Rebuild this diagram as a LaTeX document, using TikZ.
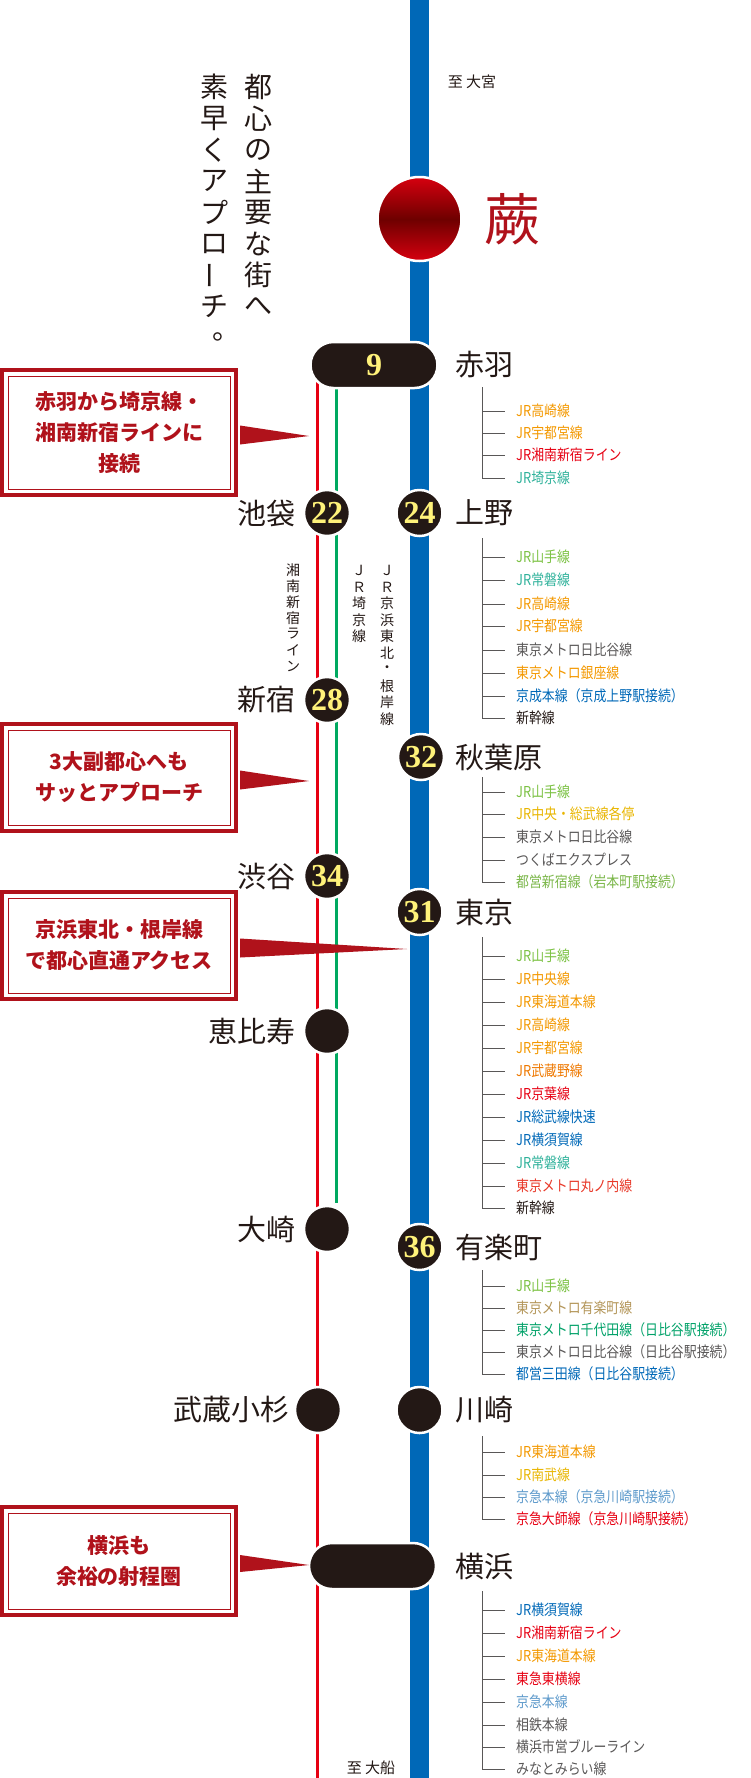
\documentclass[tikz,border=0pt]{standalone}
\usepackage{fontspec}
\setmainfont{Noto Sans CJK JP}
\newfontfamily\numfont{Liberation Serif}
\usetikzlibrary{positioning,calc}
\definecolor{lineblue}{HTML}{0068B7}
\definecolor{linered}{HTML}{E60012}
\definecolor{linegreen}{HTML}{00A960}
\definecolor{stblack}{HTML}{231815}
\definecolor{numyellow}{HTML}{FFF27A}
\definecolor{boxred}{HTML}{B0121B}
\definecolor{warabired}{HTML}{D7000F}
\definecolor{warabidark}{HTML}{6E0000}
\definecolor{jrorange}{HTML}{F39800}
\definecolor{jrred}{HTML}{E60012}
\definecolor{teal}{HTML}{2EB19A}
\definecolor{yamanote}{HTML}{7BC143}
\definecolor{grayline}{HTML}{595757}
\definecolor{keisei}{HTML}{0068B7}
\definecolor{chuo}{HTML}{E8B500}
\definecolor{toei}{HTML}{7AB648}
\definecolor{musashino}{HTML}{EE7800}
\definecolor{marunouchi}{HTML}{E83828}
\definecolor{yurakucho}{HTML}{B39558}
\definecolor{chiyoda}{HTML}{00A168}
\definecolor{keikyu}{HTML}{5E9ACB}
\tikzset{
  numst/.style={circle, minimum size=46pt, inner sep=0pt, fill=stblack, draw=white, line width=2.5pt,
    text=numyellow, font=\numfont\bfseries\fontsize{32}{32}\selectfont},
  pill/.style={rounded corners=23pt, minimum width=127pt, minimum height=46pt, inner sep=0pt,
    fill=stblack, draw=white, line width=2.5pt, text=numyellow, font=\numfont\bfseries\fontsize{32}{32}\selectfont},
  stname/.style={font=\fontsize{29}{29}\selectfont, text=stblack, inner sep=0pt},
  callout/.style={draw=boxred, line width=4pt, fill=white, minimum width=234pt, align=center,
    text=boxred, font=\bfseries\fontsize{21}{31}\selectfont},
  bracket/.style={draw=grayline, line width=1pt},
  item/.style={anchor=west, inner sep=0pt, xscale=0.86, font=\fontsize{15}{15}\selectfont},
  vchar/.style={inner sep=0pt, font=\fontsize{14}{14}\selectfont, text=stblack},
}
% list of connecting lines beside a station
\newcommand{\linelist}[4]{%
  \draw[bracket] (482,#1) -- (482,#2) -- (505,#2);
  \foreach \yy/\lcol/\lbl [count=\i] in {#3} {
    \draw[bracket] (482,\yy) -- (505,\yy);
    \node[item, text=\lcol] (#4-\i) at (516,\yy) {\lbl};
  }}
\begin{document}
\begin{tikzpicture}[x=1pt,y=-1pt]
  \useasboundingbox (0,0) rectangle (750,1778);
  % lines
  \draw[lineblue, line width=19pt] (419.5,0) -- (419.5,1778);
  \draw[linered, line width=3pt] (317,365) -- (317,1778);
  \draw[linegreen, line width=3pt] (336,365) -- (336,1203);
  \foreach \c [count=\i] in {湘,南,新,宿,ラ,イ,ン}
    \node[vchar] (shonan-\i) at (293,554+\i*16) {\c};
  \foreach \c [count=\i] in {Ｊ,Ｒ,埼,京,線}
    \node[vchar] (saikyo-\i) at (359,554+\i*16.5) {\c};
  \foreach \c [count=\i] in {Ｊ,Ｒ,京,浜,東,北,・,根,岸,線}
    \node[vchar] (keihin-\i) at (387,554+\i*16.5) {\c};
  \node[font=\fontsize{15}{15}\selectfont, text=stblack] (omiya) at (472,82) {至 大宮};
  \node[font=\fontsize{15}{15}\selectfont, text=stblack] (ofuna) at (371,1768) {至 大船};
  % catch copy
  \foreach \c [count=\i] in {都,心,の,主,要,な,街,へ}
    \node[font=\fontsize{28}{28}\selectfont, text=stblack] (copya-\i) at (258,56+\i*31.3) {\c};
  \foreach \c [count=\i] in {素,早,く,ア,プ,ロ,{\rotatebox[origin=c]{90}{ー}},チ}
    \node[font=\fontsize{28}{28}\selectfont, text=stblack] (copyb-\i) at (214,56+\i*31.3) {\c};
  \node[font=\fontsize{28}{28}\selectfont, text=stblack] (copyb-9) at (226,337) {。};
  % warabi
  \node[circle, minimum size=84pt, draw=white, line width=2.5pt, top color=warabired,
    bottom color=warabired, middle color=warabidark] (warabi) at (419.5,219) {};
  \node[font=\fontsize{56}{56}\selectfont, text=boxred, anchor=west] (warabi-name) at (481,219) {蕨};
  % stations
  \node[pill] (akabane) at (374,365) {9};
  \node[pill] (yokohama) at (372.5,1566) {};
  \node[numst] (ikebukuro) at (327,513) {22};
  \node[numst] (ueno) at (419.5,513) {24};
  \node[numst] (shinjuku) at (327,700) {28};
  \node[numst] (akihabara) at (421,757) {32};
  \node[numst] (shibuya) at (327,876) {34};
  \node[numst] (tokyo) at (419.5,912) {31};
  \node[numst] (ebisu) at (327,1031) {};
  \node[numst] (osaki) at (327,1229) {};
  \node[numst] (yurakucho) at (419.5,1247) {36};
  \node[numst] (kosugi) at (318,1410) {};
  \node[numst] (kawasaki) at (419.5,1410) {};
  \node[stname, anchor=west] at (455,365) {赤羽};
  \node[stname, anchor=west] at (455,513) {上野};
  \node[stname, anchor=west] at (455,757) {秋葉原};
  \node[stname, anchor=west] at (455,912) {東京};
  \node[stname, anchor=west] at (455,1247) {有楽町};
  \node[stname, anchor=west] at (455,1410) {川崎};
  \node[stname, anchor=west] at (455,1566) {横浜};
  \node[stname, anchor=east] at (296,513) {池袋};
  \node[stname, anchor=east] at (296,700) {新宿};
  \node[stname, anchor=east] at (296,876) {渋谷};
  \node[stname, anchor=east] at (296,1031) {恵比寿};
  \node[stname, anchor=east] at (296,1229) {大崎};
  \node[stname, anchor=east] at (290,1410) {武蔵小杉};
  % connecting lines
  \linelist{387}{478}{411/jrorange/JR高崎線, 433/jrorange/JR宇都宮線, 455/jrred/JR湘南新宿ライン, 478/teal/JR埼京線}{akabane}
  \linelist{538}{718}{557/yamanote/JR山手線, 580/teal/JR常磐線, 604/jrorange/JR高崎線, 626/jrorange/JR宇都宮線,
    650/grayline/東京メトロ日比谷線, 673/jrorange/東京メトロ銀座線, 696/keisei/京成本線（京成上野駅接続）, 718/stblack/新幹線}{ueno}
  \linelist{777}{882}{792/yamanote/JR山手線, 814/chuo/JR中央・総武線各停, 837/grayline/東京メトロ日比谷線,
    860/grayline/つくばエクスプレス, 882/toei/都営新宿線（岩本町駅接続）}{akihabara}
  \linelist{937}{1208}{956/yamanote/JR山手線, 979/jrorange/JR中央線, 1002/jrorange/JR東海道本線, 1025/jrorange/JR高崎線,
    1048/jrorange/JR宇都宮線, 1071/musashino/JR武蔵野線, 1094/jrred/JR京葉線, 1117/keisei/JR総武線快速,
    1140/keisei/JR横須賀線, 1163/teal/JR常磐線, 1186/marunouchi/東京メトロ丸ノ内線, 1208/stblack/新幹線}{tokyo}
  \linelist{1270}{1374}{1286/yamanote/JR山手線, 1308/yurakucho/東京メトロ有楽町線, 1330/chiyoda/東京メトロ千代田線（日比谷駅接続）,
    1352/grayline/東京メトロ日比谷線（日比谷駅接続）, 1374/keisei/都営三田線（日比谷駅接続）}{yurakucho}
  \linelist{1436}{1519}{1452/jrorange/JR東海道本線, 1475/chuo/JR南武線, 1497/keikyu/京急本線（京急川崎駅接続）,
    1519/jrred/京急大師線（京急川崎駅接続）}{kawasaki}
  \linelist{1591}{1769}{1610/keisei/JR横須賀線, 1633/jrred/JR湘南新宿ライン, 1656/jrorange/JR東海道本線, 1679/jrred/東急東横線,
    1702/keikyu/京急本線, 1725/grayline/相鉄本線, 1747/grayline/横浜市営ブルーライン, 1769/grayline/みなとみらい線}{yokohama}
  % callouts
  \node[callout, minimum height=125pt] (box1) at (119,432.5) {赤羽から埼京線・\\湘南新宿ラインに\\接続};
  \node[callout, minimum height=107pt] (box2) at (119,777.5) {3大副都心へも\\サッとアプローチ};
  \node[callout, minimum height=107pt] (box3) at (119,945.5) {京浜東北・根岸線\\で都心直通アクセス};
  \node[callout, minimum height=108pt] (box4) at (119,1561) {横浜も\\余裕の射程圏};
  \foreach \b in {box1,box2,box3,box4}
    \draw[boxred, line width=0.8pt] ($(\b.north west)+(8,8)$) rectangle ($(\b.south east)+(-8,-8)$);
  \coordinate (tip1) at (309,436);
  \coordinate (tip2) at (309,781);
  \coordinate (tip3) at (407,949);
  \coordinate (tip4) at (309,1565);
  \fill[boxred] ($(box1.east)+(2,-7)$) -- (tip1) -- ($(box1.east)+(2,12)$) -- cycle;
  \fill[boxred] ($(box2.east)+(2,-7)$) -- (tip2) -- ($(box2.east)+(2,12)$) -- cycle;
  \fill[boxred] ($(box3.east)+(2,-7)$) -- (tip3) -- ($(box3.east)+(2,12)$) -- cycle;
  \fill[boxred] ($(box4.east)+(2,-6)$) -- (tip4) -- ($(box4.east)+(2,11)$) -- cycle;
\end{tikzpicture}
\end{document}
